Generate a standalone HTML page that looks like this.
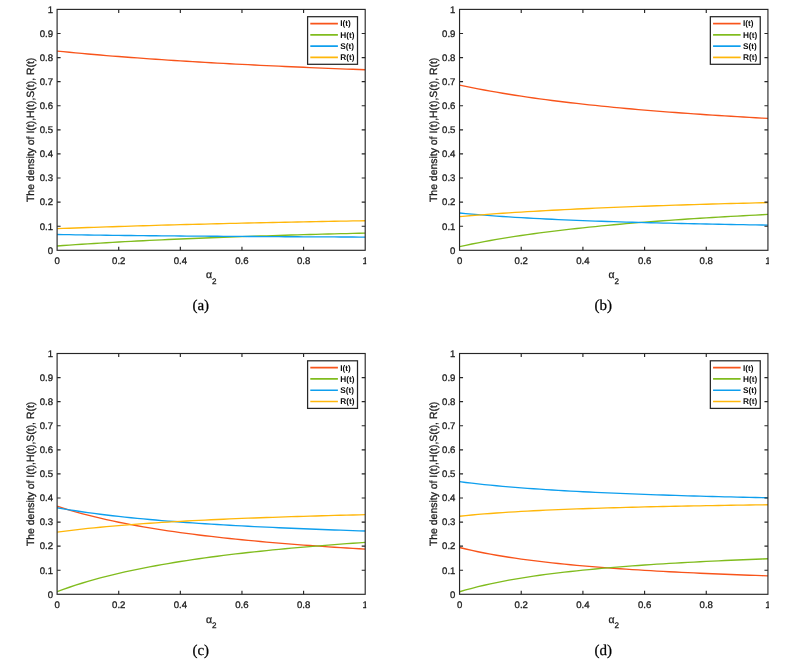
<!DOCTYPE html>
<html lang="en"><head><meta charset="utf-8"><title>Density of I(t), H(t), S(t), R(t) versus alpha 2</title>
<style>html,body{margin:0;padding:0;background:#fff}body{width:801px;height:668px;overflow:hidden}svg{display:block}text{font-family:"Liberation Sans",sans-serif;fill:#262626;text-rendering:geometricPrecision}.tk,.lb{fill:#1c1c1c;stroke:#1c1c1c;stroke-width:0.3px}.lg{fill:#0c0c0c}.tk{font-size:9.6px}.lb{font-size:10.45px}.lg{font-size:8.25px;font-weight:bold}.cap{font-family:"Liberation Serif",serif;font-size:15px;fill:#000;stroke:#000;stroke-width:0.25px}.ax{stroke:#262626;stroke-width:1.15;fill:none}.cv{fill:none;stroke-width:1.35;stroke-linejoin:round}</style></head><body>
<svg width="801" height="668" viewBox="0 0 801 668">
<rect x="0" y="0" width="801" height="668" fill="#fff"/>
<clipPath id="cp0"><rect x="-2.9" y="-2.6" width="369.1" height="300.9"/></clipPath>
<clipPath id="cb0"><rect x="57.1" y="9.4" width="308.6" height="240.9"/></clipPath>
<g clip-path="url(#cp0)">
<g clip-path="url(#cb0)">
<polyline class="cv" stroke="#F8541B" points="57.1,51.08 63.26,51.69 69.42,52.28 75.59,52.86 81.75,53.42 87.91,53.97 94.07,54.51 100.23,55.04 106.4,55.55 112.56,56.05 118.72,56.54 124.88,57.01 131.04,57.48 137.21,57.94 143.37,58.38 149.53,58.82 155.69,59.25 161.85,59.66 168.02,60.07 174.18,60.47 180.34,60.87 186.5,61.25 192.66,61.63 198.83,61.99 204.99,62.36 211.15,62.71 217.31,63.06 223.47,63.4 229.64,63.73 235.8,64.06 241.96,64.38 248.12,64.7 254.28,65.01 260.45,65.31 266.61,65.61 272.77,65.9 278.93,66.19 285.09,66.47 291.26,66.75 297.42,67.03 303.58,67.29 309.74,67.56 315.9,67.82 322.07,68.07 328.23,68.32 334.39,68.57 340.55,68.81 346.71,69.05 352.88,69.29 359.04,69.52 365.2,69.75"/>
<polyline class="cv" stroke="#80BC1E" points="57.1,245.96 63.26,245.51 69.42,245.08 75.59,244.65 81.75,244.24 87.91,243.84 94.07,243.46 100.23,243.08 106.4,242.71 112.56,242.36 118.72,242.01 124.88,241.67 131.04,241.34 137.21,241.02 143.37,240.71 149.53,240.41 155.69,240.11 161.85,239.82 168.02,239.54 174.18,239.26 180.34,238.99 186.5,238.73 192.66,238.47 198.83,238.22 204.99,237.98 211.15,237.74 217.31,237.5 223.47,237.27 229.64,237.05 235.8,236.83 241.96,236.61 248.12,236.4 254.28,236.2 260.45,235.99 266.61,235.8 272.77,235.6 278.93,235.41 285.09,235.23 291.26,235.04 297.42,234.86 303.58,234.69 309.74,234.52 315.9,234.35 322.07,234.18 328.23,234.02 334.39,233.86 340.55,233.7 346.71,233.55 352.88,233.39 359.04,233.25 365.2,233.1"/>
<polyline class="cv" stroke="#0E9FEE" points="57.1,234.5 63.26,234.6 69.42,234.7 75.59,234.8 81.75,234.9 87.91,234.99 94.07,235.07 100.23,235.15 106.4,235.23 112.56,235.31 118.72,235.39 124.88,235.46 131.04,235.53 137.21,235.59 143.37,235.66 149.53,235.72 155.69,235.78 161.85,235.84 168.02,235.89 174.18,235.95 180.34,236 186.5,236.05 192.66,236.1 198.83,236.15 204.99,236.2 211.15,236.24 217.31,236.29 223.47,236.33 229.64,236.37 235.8,236.41 241.96,236.45 248.12,236.49 254.28,236.53 260.45,236.57 266.61,236.6 272.77,236.64 278.93,236.67 285.09,236.71 291.26,236.74 297.42,236.77 303.58,236.8 309.74,236.83 315.9,236.86 322.07,236.89 328.23,236.92 334.39,236.95 340.55,236.97 346.71,237 352.88,237.02 359.04,237.05 365.2,237.07"/>
<polyline class="cv" stroke="#FFB70A" points="57.1,228.69 63.26,228.45 69.42,228.22 75.59,227.99 81.75,227.76 87.91,227.54 94.07,227.33 100.23,227.12 106.4,226.91 112.56,226.71 118.72,226.51 124.88,226.31 131.04,226.12 137.21,225.93 143.37,225.74 149.53,225.56 155.69,225.38 161.85,225.2 168.02,225.03 174.18,224.86 180.34,224.69 186.5,224.53 192.66,224.37 198.83,224.21 204.99,224.05 211.15,223.9 217.31,223.75 223.47,223.6 229.64,223.45 235.8,223.31 241.96,223.17 248.12,223.03 254.28,222.89 260.45,222.76 266.61,222.62 272.77,222.49 278.93,222.36 285.09,222.24 291.26,222.11 297.42,221.99 303.58,221.87 309.74,221.75 315.9,221.63 322.07,221.51 328.23,221.4 334.39,221.28 340.55,221.17 346.71,221.06 352.88,220.95 359.04,220.85 365.2,220.74"/>
</g>
<rect class="ax" x="57.1" y="9.4" width="308.1" height="240.9"/>
<path class="ax" d="M118.72 250.3v-3.5M118.72 9.4v3.5M180.34 250.3v-3.5M180.34 9.4v3.5M241.96 250.3v-3.5M241.96 9.4v3.5M303.58 250.3v-3.5M303.58 9.4v3.5M57.1 226.21h3.5M365.2 226.21h-3.5M57.1 202.12h3.5M365.2 202.12h-3.5M57.1 178.03h3.5M365.2 178.03h-3.5M57.1 153.94h3.5M365.2 153.94h-3.5M57.1 129.85h3.5M365.2 129.85h-3.5M57.1 105.76h3.5M365.2 105.76h-3.5M57.1 81.67h3.5M365.2 81.67h-3.5M57.1 57.58h3.5M365.2 57.58h-3.5M57.1 33.49h3.5M365.2 33.49h-3.5"/>
<text class="tk" text-anchor="middle" x="57.1" y="264">0</text>
<text class="tk" text-anchor="middle" x="118.72" y="264">0.2</text>
<text class="tk" text-anchor="middle" x="180.34" y="264">0.4</text>
<text class="tk" text-anchor="middle" x="241.96" y="264">0.6</text>
<text class="tk" text-anchor="middle" x="303.58" y="264">0.8</text>
<text class="tk" text-anchor="middle" x="365.2" y="264">1</text>
<text class="tk" text-anchor="end" x="53" y="253.6">0</text>
<text class="tk" text-anchor="end" x="53" y="229.51">0.1</text>
<text class="tk" text-anchor="end" x="53" y="205.42">0.2</text>
<text class="tk" text-anchor="end" x="53" y="181.33">0.3</text>
<text class="tk" text-anchor="end" x="53" y="157.24">0.4</text>
<text class="tk" text-anchor="end" x="53" y="133.15">0.5</text>
<text class="tk" text-anchor="end" x="53" y="109.06">0.6</text>
<text class="tk" text-anchor="end" x="53" y="84.97">0.7</text>
<text class="tk" text-anchor="end" x="53" y="60.88">0.8</text>
<text class="tk" text-anchor="end" x="53" y="36.79">0.9</text>
<text class="tk" text-anchor="end" x="53" y="12.7">1</text>
<text class="lb" x="205.95" y="278.3">α<tspan dy="5.5" font-size="8.1px">2</tspan></text>
<text class="lb" text-anchor="middle" transform="translate(34 129.85) rotate(-90)">The density of I(t),H(t),S(t), R(t)</text>
<rect x="307.6" y="16.7" width="49.9" height="47.6" fill="#fff" stroke="#262626" stroke-width="1.25"/>
<path d="M310.3 23.6h27.6" stroke="#F8541B" stroke-width="1.7" fill="none"/>
<text class="lg" x="340.2" y="26.45">I(t)</text>
<path d="M310.3 34.87h27.6" stroke="#80BC1E" stroke-width="1.7" fill="none"/>
<text class="lg" x="340.2" y="37.72">H(t)</text>
<path d="M310.3 46.14h27.6" stroke="#0E9FEE" stroke-width="1.7" fill="none"/>
<text class="lg" x="340.2" y="48.99">S(t)</text>
<path d="M310.3 57.41h27.6" stroke="#FFB70A" stroke-width="1.7" fill="none"/>
<text class="lg" x="340.2" y="60.26">R(t)</text>
</g>
<text class="cap" text-anchor="middle" x="200.8" y="310">(a)</text>
<clipPath id="cp1"><rect x="399.55" y="-2.6" width="369.4" height="300.9"/></clipPath>
<clipPath id="cb1"><rect x="459.55" y="9.4" width="308.9" height="240.9"/></clipPath>
<g clip-path="url(#cp1)">
<g clip-path="url(#cb1)">
<polyline class="cv" stroke="#F8541B" points="459.55,85.04 465.72,86.35 471.89,87.62 478.05,88.83 484.22,90 490.39,91.12 496.56,92.21 502.73,93.25 508.89,94.26 515.06,95.24 521.23,96.18 527.4,97.1 533.57,97.98 539.73,98.83 545.9,99.66 552.07,100.46 558.24,101.24 564.41,101.99 570.57,102.73 576.74,103.44 582.91,104.13 589.08,104.8 595.25,105.45 601.41,106.09 607.58,106.7 613.75,107.3 619.92,107.89 626.09,108.46 632.25,109.01 638.42,109.55 644.59,110.08 650.76,110.6 656.93,111.1 663.09,111.59 669.26,112.06 675.43,112.53 681.6,112.99 687.77,113.43 693.93,113.87 700.1,114.29 706.27,114.71 712.44,115.11 718.61,115.51 724.77,115.9 730.94,116.28 737.11,116.66 743.28,117.02 749.45,117.38 755.61,117.73 761.78,118.07 767.95,118.41"/>
<polyline class="cv" stroke="#80BC1E" points="459.55,246.61 465.72,245.29 471.89,244.01 478.05,242.8 484.22,241.63 490.39,240.5 496.56,239.43 502.73,238.39 508.89,237.39 515.06,236.43 521.23,235.5 527.4,234.61 533.57,233.75 539.73,232.92 545.9,232.11 552.07,231.34 558.24,230.59 564.41,229.86 570.57,229.16 576.74,228.47 582.91,227.81 589.08,227.17 595.25,226.55 601.41,225.95 607.58,225.36 613.75,224.79 619.92,224.24 626.09,223.7 632.25,223.18 638.42,222.67 644.59,222.17 650.76,221.69 656.93,221.22 663.09,220.76 669.26,220.32 675.43,219.88 681.6,219.46 687.77,219.04 693.93,218.64 700.1,218.24 706.27,217.86 712.44,217.48 718.61,217.12 724.77,216.76 730.94,216.41 737.11,216.06 743.28,215.73 749.45,215.4 755.61,215.08 761.78,214.76 767.95,214.45"/>
<polyline class="cv" stroke="#0E9FEE" points="459.55,212.96 465.72,213.56 471.89,214.12 478.05,214.65 484.22,215.16 490.39,215.63 496.56,216.08 502.73,216.51 508.89,216.92 515.06,217.31 521.23,217.67 527.4,218.03 533.57,218.36 539.73,218.68 545.9,218.99 552.07,219.29 558.24,219.57 564.41,219.84 570.57,220.1 576.74,220.35 582.91,220.59 589.08,220.82 595.25,221.05 601.41,221.26 607.58,221.47 613.75,221.67 619.92,221.86 626.09,222.05 632.25,222.23 638.42,222.41 644.59,222.58 650.76,222.74 656.93,222.9 663.09,223.05 669.26,223.2 675.43,223.35 681.6,223.49 687.77,223.63 693.93,223.76 700.1,223.89 706.27,224.01 712.44,224.14 718.61,224.25 724.77,224.37 730.94,224.48 737.11,224.59 743.28,224.7 749.45,224.8 755.61,224.91 761.78,225.01 767.95,225.1"/>
<polyline class="cv" stroke="#FFB70A" points="459.55,216.57 465.72,216.05 471.89,215.54 478.05,215.06 484.22,214.58 490.39,214.13 496.56,213.69 502.73,213.26 508.89,212.85 515.06,212.45 521.23,212.06 527.4,211.68 533.57,211.32 539.73,210.96 545.9,210.62 552.07,210.29 558.24,209.96 564.41,209.65 570.57,209.34 576.74,209.04 582.91,208.75 589.08,208.47 595.25,208.19 601.41,207.92 607.58,207.66 613.75,207.4 619.92,207.16 626.09,206.91 632.25,206.68 638.42,206.44 644.59,206.22 650.76,206 656.93,205.78 663.09,205.57 669.26,205.36 675.43,205.16 681.6,204.97 687.77,204.77 693.93,204.58 700.1,204.4 706.27,204.22 712.44,204.04 718.61,203.87 724.77,203.7 730.94,203.53 737.11,203.37 743.28,203.21 749.45,203.05 755.61,202.9 761.78,202.75 767.95,202.6"/>
</g>
<rect class="ax" x="459.55" y="9.4" width="308.4" height="240.9"/>
<path class="ax" d="M521.23 250.3v-3.5M521.23 9.4v3.5M582.91 250.3v-3.5M582.91 9.4v3.5M644.59 250.3v-3.5M644.59 9.4v3.5M706.27 250.3v-3.5M706.27 9.4v3.5M459.55 226.21h3.5M767.95 226.21h-3.5M459.55 202.12h3.5M767.95 202.12h-3.5M459.55 178.03h3.5M767.95 178.03h-3.5M459.55 153.94h3.5M767.95 153.94h-3.5M459.55 129.85h3.5M767.95 129.85h-3.5M459.55 105.76h3.5M767.95 105.76h-3.5M459.55 81.67h3.5M767.95 81.67h-3.5M459.55 57.58h3.5M767.95 57.58h-3.5M459.55 33.49h3.5M767.95 33.49h-3.5"/>
<text class="tk" text-anchor="middle" x="459.55" y="264">0</text>
<text class="tk" text-anchor="middle" x="521.23" y="264">0.2</text>
<text class="tk" text-anchor="middle" x="582.91" y="264">0.4</text>
<text class="tk" text-anchor="middle" x="644.59" y="264">0.6</text>
<text class="tk" text-anchor="middle" x="706.27" y="264">0.8</text>
<text class="tk" text-anchor="middle" x="767.95" y="264">1</text>
<text class="tk" text-anchor="end" x="455.45" y="253.6">0</text>
<text class="tk" text-anchor="end" x="455.45" y="229.51">0.1</text>
<text class="tk" text-anchor="end" x="455.45" y="205.42">0.2</text>
<text class="tk" text-anchor="end" x="455.45" y="181.33">0.3</text>
<text class="tk" text-anchor="end" x="455.45" y="157.24">0.4</text>
<text class="tk" text-anchor="end" x="455.45" y="133.15">0.5</text>
<text class="tk" text-anchor="end" x="455.45" y="109.06">0.6</text>
<text class="tk" text-anchor="end" x="455.45" y="84.97">0.7</text>
<text class="tk" text-anchor="end" x="455.45" y="60.88">0.8</text>
<text class="tk" text-anchor="end" x="455.45" y="36.79">0.9</text>
<text class="tk" text-anchor="end" x="455.45" y="12.7">1</text>
<text class="lb" x="608.55" y="278.3">α<tspan dy="5.5" font-size="8.1px">2</tspan></text>
<text class="lb" text-anchor="middle" transform="translate(437.45 129.85) rotate(-90)">The density of I(t),H(t),S(t), R(t)</text>
<rect x="710.35" y="16.7" width="49.9" height="47.6" fill="#fff" stroke="#262626" stroke-width="1.25"/>
<path d="M713.05 23.6h27.6" stroke="#F8541B" stroke-width="1.7" fill="none"/>
<text class="lg" x="742.95" y="26.45">I(t)</text>
<path d="M713.05 34.87h27.6" stroke="#80BC1E" stroke-width="1.7" fill="none"/>
<text class="lg" x="742.95" y="37.72">H(t)</text>
<path d="M713.05 46.14h27.6" stroke="#0E9FEE" stroke-width="1.7" fill="none"/>
<text class="lg" x="742.95" y="48.99">S(t)</text>
<path d="M713.05 57.41h27.6" stroke="#FFB70A" stroke-width="1.7" fill="none"/>
<text class="lg" x="742.95" y="60.26">R(t)</text>
</g>
<text class="cap" text-anchor="middle" x="603.25" y="310">(b)</text>
<clipPath id="cp2"><rect x="-2.9" y="341.5" width="369.1" height="300.8"/></clipPath>
<clipPath id="cb2"><rect x="57.1" y="353.5" width="308.6" height="240.8"/></clipPath>
<g clip-path="url(#cp2)">
<g clip-path="url(#cb2)">
<polyline class="cv" stroke="#F8541B" points="57.1,506.17 63.26,508.16 69.42,510.06 75.59,511.85 81.75,513.56 87.91,515.18 94.07,516.72 100.23,518.2 106.4,519.6 112.56,520.94 118.72,522.23 124.88,523.46 131.04,524.64 137.21,525.77 143.37,526.86 149.53,527.9 155.69,528.9 161.85,529.87 168.02,530.8 174.18,531.69 180.34,532.56 186.5,533.39 192.66,534.19 198.83,534.97 204.99,535.72 211.15,536.45 217.31,537.15 223.47,537.83 229.64,538.49 235.8,539.13 241.96,539.75 248.12,540.35 254.28,540.94 260.45,541.51 266.61,542.06 272.77,542.59 278.93,543.11 285.09,543.62 291.26,544.11 297.42,544.59 303.58,545.06 309.74,545.51 315.9,545.95 322.07,546.39 328.23,546.81 334.39,547.22 340.55,547.62 346.71,548.01 352.88,548.39 359.04,548.76 365.2,549.13"/>
<polyline class="cv" stroke="#80BC1E" points="57.1,591.65 63.26,589.39 69.42,587.24 75.59,585.2 81.75,583.26 87.91,581.41 94.07,579.65 100.23,577.97 106.4,576.37 112.56,574.84 118.72,573.37 124.88,571.96 131.04,570.61 137.21,569.31 143.37,568.07 149.53,566.87 155.69,565.72 161.85,564.62 168.02,563.55 174.18,562.52 180.34,561.53 186.5,560.57 192.66,559.64 198.83,558.75 204.99,557.88 211.15,557.04 217.31,556.23 223.47,555.45 229.64,554.69 235.8,553.95 241.96,553.23 248.12,552.54 254.28,551.86 260.45,551.21 266.61,550.57 272.77,549.95 278.93,549.35 285.09,548.77 291.26,548.2 297.42,547.64 303.58,547.1 309.74,546.58 315.9,546.06 322.07,545.56 328.23,545.07 334.39,544.6 340.55,544.13 346.71,543.68 352.88,543.24 359.04,542.81 365.2,542.38"/>
<polyline class="cv" stroke="#0E9FEE" points="57.1,507.71 63.26,508.79 69.42,509.82 75.59,510.79 81.75,511.71 87.91,512.59 94.07,513.43 100.23,514.23 106.4,514.99 112.56,515.72 118.72,516.42 124.88,517.08 131.04,517.72 137.21,518.33 143.37,518.92 149.53,519.49 155.69,520.03 161.85,520.55 168.02,521.06 174.18,521.54 180.34,522.01 186.5,522.46 192.66,522.9 198.83,523.32 204.99,523.73 211.15,524.12 217.31,524.5 223.47,524.87 229.64,525.23 235.8,525.58 241.96,525.91 248.12,526.24 254.28,526.56 260.45,526.86 266.61,527.16 272.77,527.45 278.93,527.73 285.09,528.01 291.26,528.27 297.42,528.53 303.58,528.79 309.74,529.03 315.9,529.27 322.07,529.51 328.23,529.74 334.39,529.96 340.55,530.18 346.71,530.39 352.88,530.59 359.04,530.8 365.2,530.99"/>
<polyline class="cv" stroke="#FFB70A" points="57.1,532.17 63.26,531.34 69.42,530.56 75.59,529.82 81.75,529.11 87.91,528.45 94.07,527.81 100.23,527.21 106.4,526.63 112.56,526.08 118.72,525.55 124.88,525.05 131.04,524.57 137.21,524.11 143.37,523.66 149.53,523.24 155.69,522.83 161.85,522.44 168.02,522.06 174.18,521.7 180.34,521.35 186.5,521.01 192.66,520.69 198.83,520.37 204.99,520.07 211.15,519.78 217.31,519.49 223.47,519.22 229.64,518.95 235.8,518.69 241.96,518.44 248.12,518.2 254.28,517.97 260.45,517.74 266.61,517.52 272.77,517.3 278.93,517.1 285.09,516.89 291.26,516.7 297.42,516.5 303.58,516.32 309.74,516.14 315.9,515.96 322.07,515.79 328.23,515.62 334.39,515.45 340.55,515.29 346.71,515.14 352.88,514.99 359.04,514.84 365.2,514.69"/>
</g>
<rect class="ax" x="57.1" y="353.5" width="308.1" height="240.8"/>
<path class="ax" d="M118.72 594.3v-3.5M118.72 353.5v3.5M180.34 594.3v-3.5M180.34 353.5v3.5M241.96 594.3v-3.5M241.96 353.5v3.5M303.58 594.3v-3.5M303.58 353.5v3.5M57.1 570.22h3.5M365.2 570.22h-3.5M57.1 546.14h3.5M365.2 546.14h-3.5M57.1 522.06h3.5M365.2 522.06h-3.5M57.1 497.98h3.5M365.2 497.98h-3.5M57.1 473.9h3.5M365.2 473.9h-3.5M57.1 449.82h3.5M365.2 449.82h-3.5M57.1 425.74h3.5M365.2 425.74h-3.5M57.1 401.66h3.5M365.2 401.66h-3.5M57.1 377.58h3.5M365.2 377.58h-3.5"/>
<text class="tk" text-anchor="middle" x="57.1" y="608">0</text>
<text class="tk" text-anchor="middle" x="118.72" y="608">0.2</text>
<text class="tk" text-anchor="middle" x="180.34" y="608">0.4</text>
<text class="tk" text-anchor="middle" x="241.96" y="608">0.6</text>
<text class="tk" text-anchor="middle" x="303.58" y="608">0.8</text>
<text class="tk" text-anchor="middle" x="365.2" y="608">1</text>
<text class="tk" text-anchor="end" x="53" y="597.6">0</text>
<text class="tk" text-anchor="end" x="53" y="573.52">0.1</text>
<text class="tk" text-anchor="end" x="53" y="549.44">0.2</text>
<text class="tk" text-anchor="end" x="53" y="525.36">0.3</text>
<text class="tk" text-anchor="end" x="53" y="501.28">0.4</text>
<text class="tk" text-anchor="end" x="53" y="477.2">0.5</text>
<text class="tk" text-anchor="end" x="53" y="453.12">0.6</text>
<text class="tk" text-anchor="end" x="53" y="429.04">0.7</text>
<text class="tk" text-anchor="end" x="53" y="404.96">0.8</text>
<text class="tk" text-anchor="end" x="53" y="380.88">0.9</text>
<text class="tk" text-anchor="end" x="53" y="356.8">1</text>
<text class="lb" x="205.95" y="622.7">α<tspan dy="5.5" font-size="8.1px">2</tspan></text>
<text class="lb" text-anchor="middle" transform="translate(34 473.9) rotate(-90)">The density of I(t),H(t),S(t), R(t)</text>
<rect x="307.6" y="360.8" width="49.9" height="47.6" fill="#fff" stroke="#262626" stroke-width="1.25"/>
<path d="M310.3 367.7h27.6" stroke="#F8541B" stroke-width="1.7" fill="none"/>
<text class="lg" x="340.2" y="370.55">I(t)</text>
<path d="M310.3 378.97h27.6" stroke="#80BC1E" stroke-width="1.7" fill="none"/>
<text class="lg" x="340.2" y="381.82">H(t)</text>
<path d="M310.3 390.24h27.6" stroke="#0E9FEE" stroke-width="1.7" fill="none"/>
<text class="lg" x="340.2" y="393.09">S(t)</text>
<path d="M310.3 401.51h27.6" stroke="#FFB70A" stroke-width="1.7" fill="none"/>
<text class="lg" x="340.2" y="404.36">R(t)</text>
</g>
<text class="cap" text-anchor="middle" x="200.8" y="655">(c)</text>
<clipPath id="cp3"><rect x="399.55" y="341.5" width="369.4" height="300.8"/></clipPath>
<clipPath id="cb3"><rect x="459.55" y="353.5" width="308.9" height="240.8"/></clipPath>
<g clip-path="url(#cp3)">
<g clip-path="url(#cb3)">
<polyline class="cv" stroke="#F8541B" points="459.55,547.51 465.72,549.02 471.89,550.43 478.05,551.75 484.22,552.99 490.39,554.15 496.56,555.25 502.73,556.29 508.89,557.27 515.06,558.19 521.23,559.07 527.4,559.9 533.57,560.7 539.73,561.45 545.9,562.17 552.07,562.86 558.24,563.51 564.41,564.14 570.57,564.74 576.74,565.31 582.91,565.86 589.08,566.39 595.25,566.9 601.41,567.39 607.58,567.85 613.75,568.31 619.92,568.74 626.09,569.16 632.25,569.56 638.42,569.95 644.59,570.33 650.76,570.7 656.93,571.05 663.09,571.39 669.26,571.72 675.43,572.04 681.6,572.35 687.77,572.65 693.93,572.94 700.1,573.22 706.27,573.5 712.44,573.76 718.61,574.02 724.77,574.27 730.94,574.52 737.11,574.76 743.28,574.99 749.45,575.21 755.61,575.43 761.78,575.65 767.95,575.85"/>
<polyline class="cv" stroke="#80BC1E" points="459.55,591.77 465.72,589.96 471.89,588.28 478.05,586.71 484.22,585.24 490.39,583.86 496.56,582.56 502.73,581.34 508.89,580.19 515.06,579.1 521.23,578.07 527.4,577.09 533.57,576.17 539.73,575.29 545.9,574.45 552.07,573.65 558.24,572.89 564.41,572.16 570.57,571.47 576.74,570.8 582.91,570.17 589.08,569.56 595.25,568.97 601.41,568.41 607.58,567.87 613.75,567.35 619.92,566.85 626.09,566.37 632.25,565.9 638.42,565.46 644.59,565.02 650.76,564.61 656.93,564.2 663.09,563.81 669.26,563.44 675.43,563.07 681.6,562.72 687.77,562.38 693.93,562.05 700.1,561.72 706.27,561.41 712.44,561.11 718.61,560.81 724.77,560.53 730.94,560.25 737.11,559.98 743.28,559.72 749.45,559.46 755.61,559.21 761.78,558.97 767.95,558.73"/>
<polyline class="cv" stroke="#0E9FEE" points="459.55,481.68 465.72,482.46 471.89,483.19 478.05,483.89 484.22,484.55 490.39,485.17 496.56,485.76 502.73,486.33 508.89,486.86 515.06,487.37 521.23,487.86 527.4,488.33 533.57,488.77 539.73,489.2 545.9,489.61 552.07,490 558.24,490.37 564.41,490.73 570.57,491.08 576.74,491.41 582.91,491.73 589.08,492.04 595.25,492.34 601.41,492.63 607.58,492.91 613.75,493.17 619.92,493.43 626.09,493.68 632.25,493.93 638.42,494.16 644.59,494.39 650.76,494.61 656.93,494.82 663.09,495.03 669.26,495.23 675.43,495.42 681.6,495.61 687.77,495.8 693.93,495.98 700.1,496.15 706.27,496.32 712.44,496.48 718.61,496.64 724.77,496.8 730.94,496.95 737.11,497.1 743.28,497.24 749.45,497.39 755.61,497.52 761.78,497.66 767.95,497.79"/>
<polyline class="cv" stroke="#FFB70A" points="459.55,516.21 465.72,515.58 471.89,514.99 478.05,514.45 484.22,513.94 490.39,513.46 496.56,513.01 502.73,512.58 508.89,512.18 515.06,511.8 521.23,511.45 527.4,511.11 533.57,510.79 539.73,510.48 545.9,510.19 552.07,509.92 558.24,509.65 564.41,509.4 570.57,509.16 576.74,508.93 582.91,508.71 589.08,508.5 595.25,508.3 601.41,508.11 607.58,507.92 613.75,507.74 619.92,507.57 626.09,507.4 632.25,507.24 638.42,507.09 644.59,506.94 650.76,506.79 656.93,506.65 663.09,506.52 669.26,506.39 675.43,506.26 681.6,506.14 687.77,506.03 693.93,505.91 700.1,505.8 706.27,505.69 712.44,505.59 718.61,505.49 724.77,505.39 730.94,505.29 737.11,505.2 743.28,505.11 749.45,505.02 755.61,504.94 761.78,504.85 767.95,504.77"/>
</g>
<rect class="ax" x="459.55" y="353.5" width="308.4" height="240.8"/>
<path class="ax" d="M521.23 594.3v-3.5M521.23 353.5v3.5M582.91 594.3v-3.5M582.91 353.5v3.5M644.59 594.3v-3.5M644.59 353.5v3.5M706.27 594.3v-3.5M706.27 353.5v3.5M459.55 570.22h3.5M767.95 570.22h-3.5M459.55 546.14h3.5M767.95 546.14h-3.5M459.55 522.06h3.5M767.95 522.06h-3.5M459.55 497.98h3.5M767.95 497.98h-3.5M459.55 473.9h3.5M767.95 473.9h-3.5M459.55 449.82h3.5M767.95 449.82h-3.5M459.55 425.74h3.5M767.95 425.74h-3.5M459.55 401.66h3.5M767.95 401.66h-3.5M459.55 377.58h3.5M767.95 377.58h-3.5"/>
<text class="tk" text-anchor="middle" x="459.55" y="608">0</text>
<text class="tk" text-anchor="middle" x="521.23" y="608">0.2</text>
<text class="tk" text-anchor="middle" x="582.91" y="608">0.4</text>
<text class="tk" text-anchor="middle" x="644.59" y="608">0.6</text>
<text class="tk" text-anchor="middle" x="706.27" y="608">0.8</text>
<text class="tk" text-anchor="middle" x="767.95" y="608">1</text>
<text class="tk" text-anchor="end" x="455.45" y="597.6">0</text>
<text class="tk" text-anchor="end" x="455.45" y="573.52">0.1</text>
<text class="tk" text-anchor="end" x="455.45" y="549.44">0.2</text>
<text class="tk" text-anchor="end" x="455.45" y="525.36">0.3</text>
<text class="tk" text-anchor="end" x="455.45" y="501.28">0.4</text>
<text class="tk" text-anchor="end" x="455.45" y="477.2">0.5</text>
<text class="tk" text-anchor="end" x="455.45" y="453.12">0.6</text>
<text class="tk" text-anchor="end" x="455.45" y="429.04">0.7</text>
<text class="tk" text-anchor="end" x="455.45" y="404.96">0.8</text>
<text class="tk" text-anchor="end" x="455.45" y="380.88">0.9</text>
<text class="tk" text-anchor="end" x="455.45" y="356.8">1</text>
<text class="lb" x="608.55" y="622.7">α<tspan dy="5.5" font-size="8.1px">2</tspan></text>
<text class="lb" text-anchor="middle" transform="translate(437.45 473.9) rotate(-90)">The density of I(t),H(t),S(t), R(t)</text>
<rect x="710.35" y="360.8" width="49.9" height="47.6" fill="#fff" stroke="#262626" stroke-width="1.25"/>
<path d="M713.05 367.7h27.6" stroke="#F8541B" stroke-width="1.7" fill="none"/>
<text class="lg" x="742.95" y="370.55">I(t)</text>
<path d="M713.05 378.97h27.6" stroke="#80BC1E" stroke-width="1.7" fill="none"/>
<text class="lg" x="742.95" y="381.82">H(t)</text>
<path d="M713.05 390.24h27.6" stroke="#0E9FEE" stroke-width="1.7" fill="none"/>
<text class="lg" x="742.95" y="393.09">S(t)</text>
<path d="M713.05 401.51h27.6" stroke="#FFB70A" stroke-width="1.7" fill="none"/>
<text class="lg" x="742.95" y="404.36">R(t)</text>
</g>
<text class="cap" text-anchor="middle" x="603.25" y="655">(d)</text>
</svg></body></html>
